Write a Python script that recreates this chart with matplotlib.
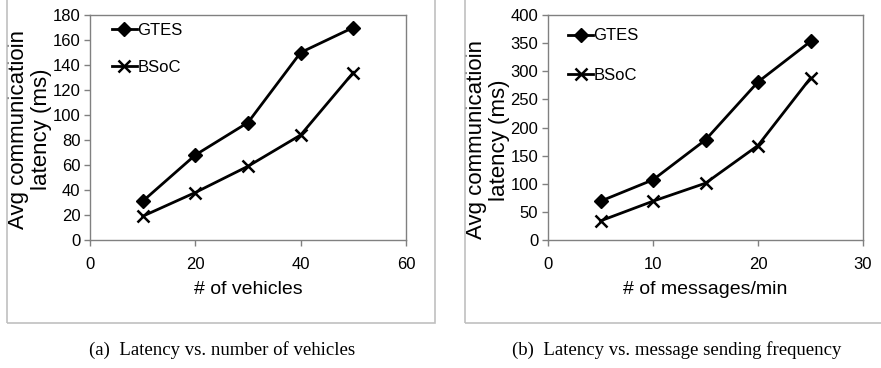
import numpy as np
import matplotlib
matplotlib.use('Agg')
import matplotlib.pyplot as plt
from matplotlib.patches import Rectangle

# Data
vehicles = [10, 20, 30, 40, 50]
gtes_vehicles = [31, 68, 94, 150, 170]
bsoc_vehicles = [19, 38, 59, 84, 134]

msg_rate = [5, 10, 15, 20, 25]
gtes_msg = [69, 107, 178, 281, 353]
bsoc_msg = [34, 69, 101, 168, 288]

plt.rcParams['font.family'] = ['Liberation Sans', 'DejaVu Sans']

W, H = 881, 368
fig = plt.figure(figsize=(W / 100, H / 100), dpi=100)


def box(x0, y0, x1, y1):
    # pixel coords (top-left origin) -> figure fraction
    return [x0 / W, 1 - y1 / H, (x1 - x0) / W, (y1 - y0) / H]


# outer grey frames around each panel
for fx0, fx1 in [(7, 435), (465, 885)]:
    fig.patches.append(Rectangle((fx0 / W, 1 - 323 / H), (fx1 - fx0) / W, 330 / H,
                                 transform=fig.transFigure, fill=False,
                                 edgecolor='#c0c0c0', linewidth=1.2))

ax1 = fig.add_axes(box(90, 15, 406, 240))
ax2 = fig.add_axes(box(548, 15, 863, 240))

panels = [
    (ax1, vehicles, gtes_vehicles, bsoc_vehicles, (0, 60), 20, (0, 180), 20,
     '# of vehicles', (0.034, 1.018), 1.35, (-0.19, 0.49)),
    (ax2, msg_rate, gtes_msg, bsoc_msg, (0, 30), 10, (0, 400), 50,
     '# of messages/min', (0.028, 0.992), 1.45, (-0.19, 0.445)),
]

for ax, x, g, b, xl, xs, yl, ys, xlabel, anchor, lspace, ypos in panels:
    ax.plot(x, g, '-', color='black', lw=2.0, marker='D', ms=7, label='GTES')
    ax.plot(x, b, '-', color='black', lw=2.0, marker='x', ms=9, mew=1.8, label='BSoC')
    ax.set_xlim(*xl)
    ax.set_ylim(*yl)
    ax.set_xticks(np.arange(xl[0], xl[1] + 1, xs))
    ax.set_yticks(np.arange(yl[0], yl[1] + 1, ys))
    for s in ax.spines.values():
        s.set_color('#808080')
        s.set_linewidth(1.0)
    ax.tick_params(axis='both', colors='#808080', labelcolor='black', labelsize=12,
                   length=4, width=1.0, direction='out')
    ax.tick_params(axis='x', pad=8)
    ax.tick_params(axis='y', pad=3)
    ax.set_xlabel(xlabel, fontsize=14, labelpad=7)
    ax.set_ylabel('Avg communicatioin\nlatency (ms)', fontsize=16, linespacing=1.1,
                  va='center')
    ax.yaxis.set_label_coords(*ypos)
    ax.legend(loc='upper left', frameon=False, fontsize=12, handlelength=1.45,
              handletextpad=0.05, labelspacing=lspace, borderaxespad=0.3,
              bbox_to_anchor=anchor)

serif = ['Liberation Serif', 'DejaVu Serif']
fig.text(222 / W, 1 - 350 / H, '(a)  Latency vs. number of vehicles', ha='center', va='center',
         fontsize=13.5, family=serif)
fig.text(677 / W, 1 - 350 / H, '(b)  Latency vs. message sending frequency', ha='center', va='center',
         fontsize=13.5, family=serif)

fig.savefig('out.png', dpi=100)
